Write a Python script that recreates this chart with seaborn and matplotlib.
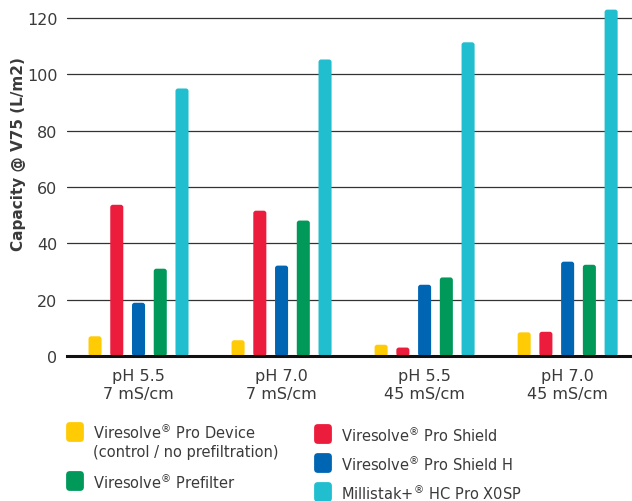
import pandas as pd
import numpy as np
import matplotlib
matplotlib.use("Agg")
import matplotlib.pyplot as plt
from matplotlib.patches import FancyBboxPatch, Rectangle
import seaborn as sns

# Data
conditions = ["pH 5.5\n7 mS/cm", "pH 7.0\n7 mS/cm", "pH 5.5\n45 mS/cm", "pH 7.0\n45 mS/cm"]
series = ["Viresolve$^{®}$ Pro Device\n(control / no prefiltration)",
          "Viresolve$^{®}$ Pro Shield",
          "Viresolve$^{®}$ Pro Shield H",
          "Viresolve$^{®}$ Prefilter",
          "Millistak+$^{®}$ HC Pro X0SP"]
pro_device = [7, 5.6, 4.0, 8.4]
pro_shield = [53.7, 51.6, 3.0, 8.6]
pro_shield_h = [18.9, 32.1, 25.3, 33.5]
prefilter = [31, 48.1, 27.9, 32.4]
millistak = [95, 105.3, 111.4, 123]
colors = ["#FFCB05", "#EC1C3C", "#0066B3", "#00995A", "#20BECE"]

values = [pro_device, pro_shield, pro_shield_h, prefilter, millistak]
df = pd.DataFrame([(c, s, v[i]) for s, v in zip(series, values) for i, c in enumerate(conditions)],
                  columns=["condition", "product", "capacity"])

sns.set_style("white")
plt.rcParams['font.family'] = ['DejaVu Sans']
text_col = "#3a3a3a"

fig = plt.figure(figsize=(6.32, 5.02), dpi=100)
ax = fig.add_axes([67/632, 145/502, 565/632, 352/502])

sns.barplot(data=df, x="condition", y="capacity", hue="product", hue_order=series,
            order=conditions, palette=colors, saturation=1, width=0.76, gap=0.4,
            linewidth=0, legend=False, ax=ax, zorder=3)

ax.set_ylim(0, 125)
ax.set_xlim(-0.5, 3.45)

# give the bars slightly rounded corners like the reference
aspect = (125 / 352) / (3.95 / 565)
for bar in [p for p in ax.patches if isinstance(p, Rectangle)]:
    x, y = bar.get_xy()
    w, h = bar.get_width(), bar.get_height()
    rb = FancyBboxPatch((x, y), w, h, boxstyle="round,pad=0,rounding_size=0.018",
                        mutation_aspect=aspect, facecolor=bar.get_facecolor(),
                        edgecolor="none", zorder=3)
    bar.set_visible(False)
    ax.add_patch(rb)

ax.set_yticks([0, 20, 40, 60, 80, 100, 120])
ax.grid(axis="y", color="#333333", linewidth=0.9, zorder=0)
ax.set_axisbelow(True)
for side in ["left", "right", "top"]:
    ax.spines[side].set_visible(False)
ax.spines["bottom"].set_color("#111111")
ax.spines["bottom"].set_linewidth(2.2)
ax.spines["bottom"].set_zorder(5)

ax.tick_params(axis="y", length=0, pad=7, labelsize=11.5, labelcolor=text_col)
ax.tick_params(axis="x", which="major", length=0, pad=9, labelsize=11.5, labelcolor=text_col)
ax.set_xticks([0.5, 1.5, 2.5], minor=True)
ax.tick_params(axis="x", which="minor", length=9, width=1, color="#555555")
for lab in ax.get_xticklabels():
    lab.set_linespacing(1.2)

ax.set_xlabel("")
ax.set_ylabel("Capacity @ V75 (L/m2)", fontsize=11, fontweight="bold", color=text_col)
ax.yaxis.set_label_coords(-0.073, 0.577)

# legend drawn by hand: two columns like the reference
W, H = 632, 502
leg_pos = [(75, 433), (323, 435), (323, 464), (75, 482), (323, 493)]
for name, col, (px, py) in zip(series, colors, leg_pos):
    box = FancyBboxPatch(((px - 7) / W, 1 - (py + 8) / H), 14 / W, 16 / H,
                         boxstyle="round,pad=0.003,rounding_size=0.006",
                         transform=fig.transFigure, facecolor=col, edgecolor="none",
                         mutation_aspect=W / H)
    fig.patches.append(box)
    va = "top" if "\n" in name else "center"
    ty = py - 10 if "\n" in name else py
    fig.text((px + 18) / W, 1 - ty / H, name, fontsize=10.5, color=text_col,
             va=va, ha="left", linespacing=1.25)

fig.savefig("out.png", dpi=100)
